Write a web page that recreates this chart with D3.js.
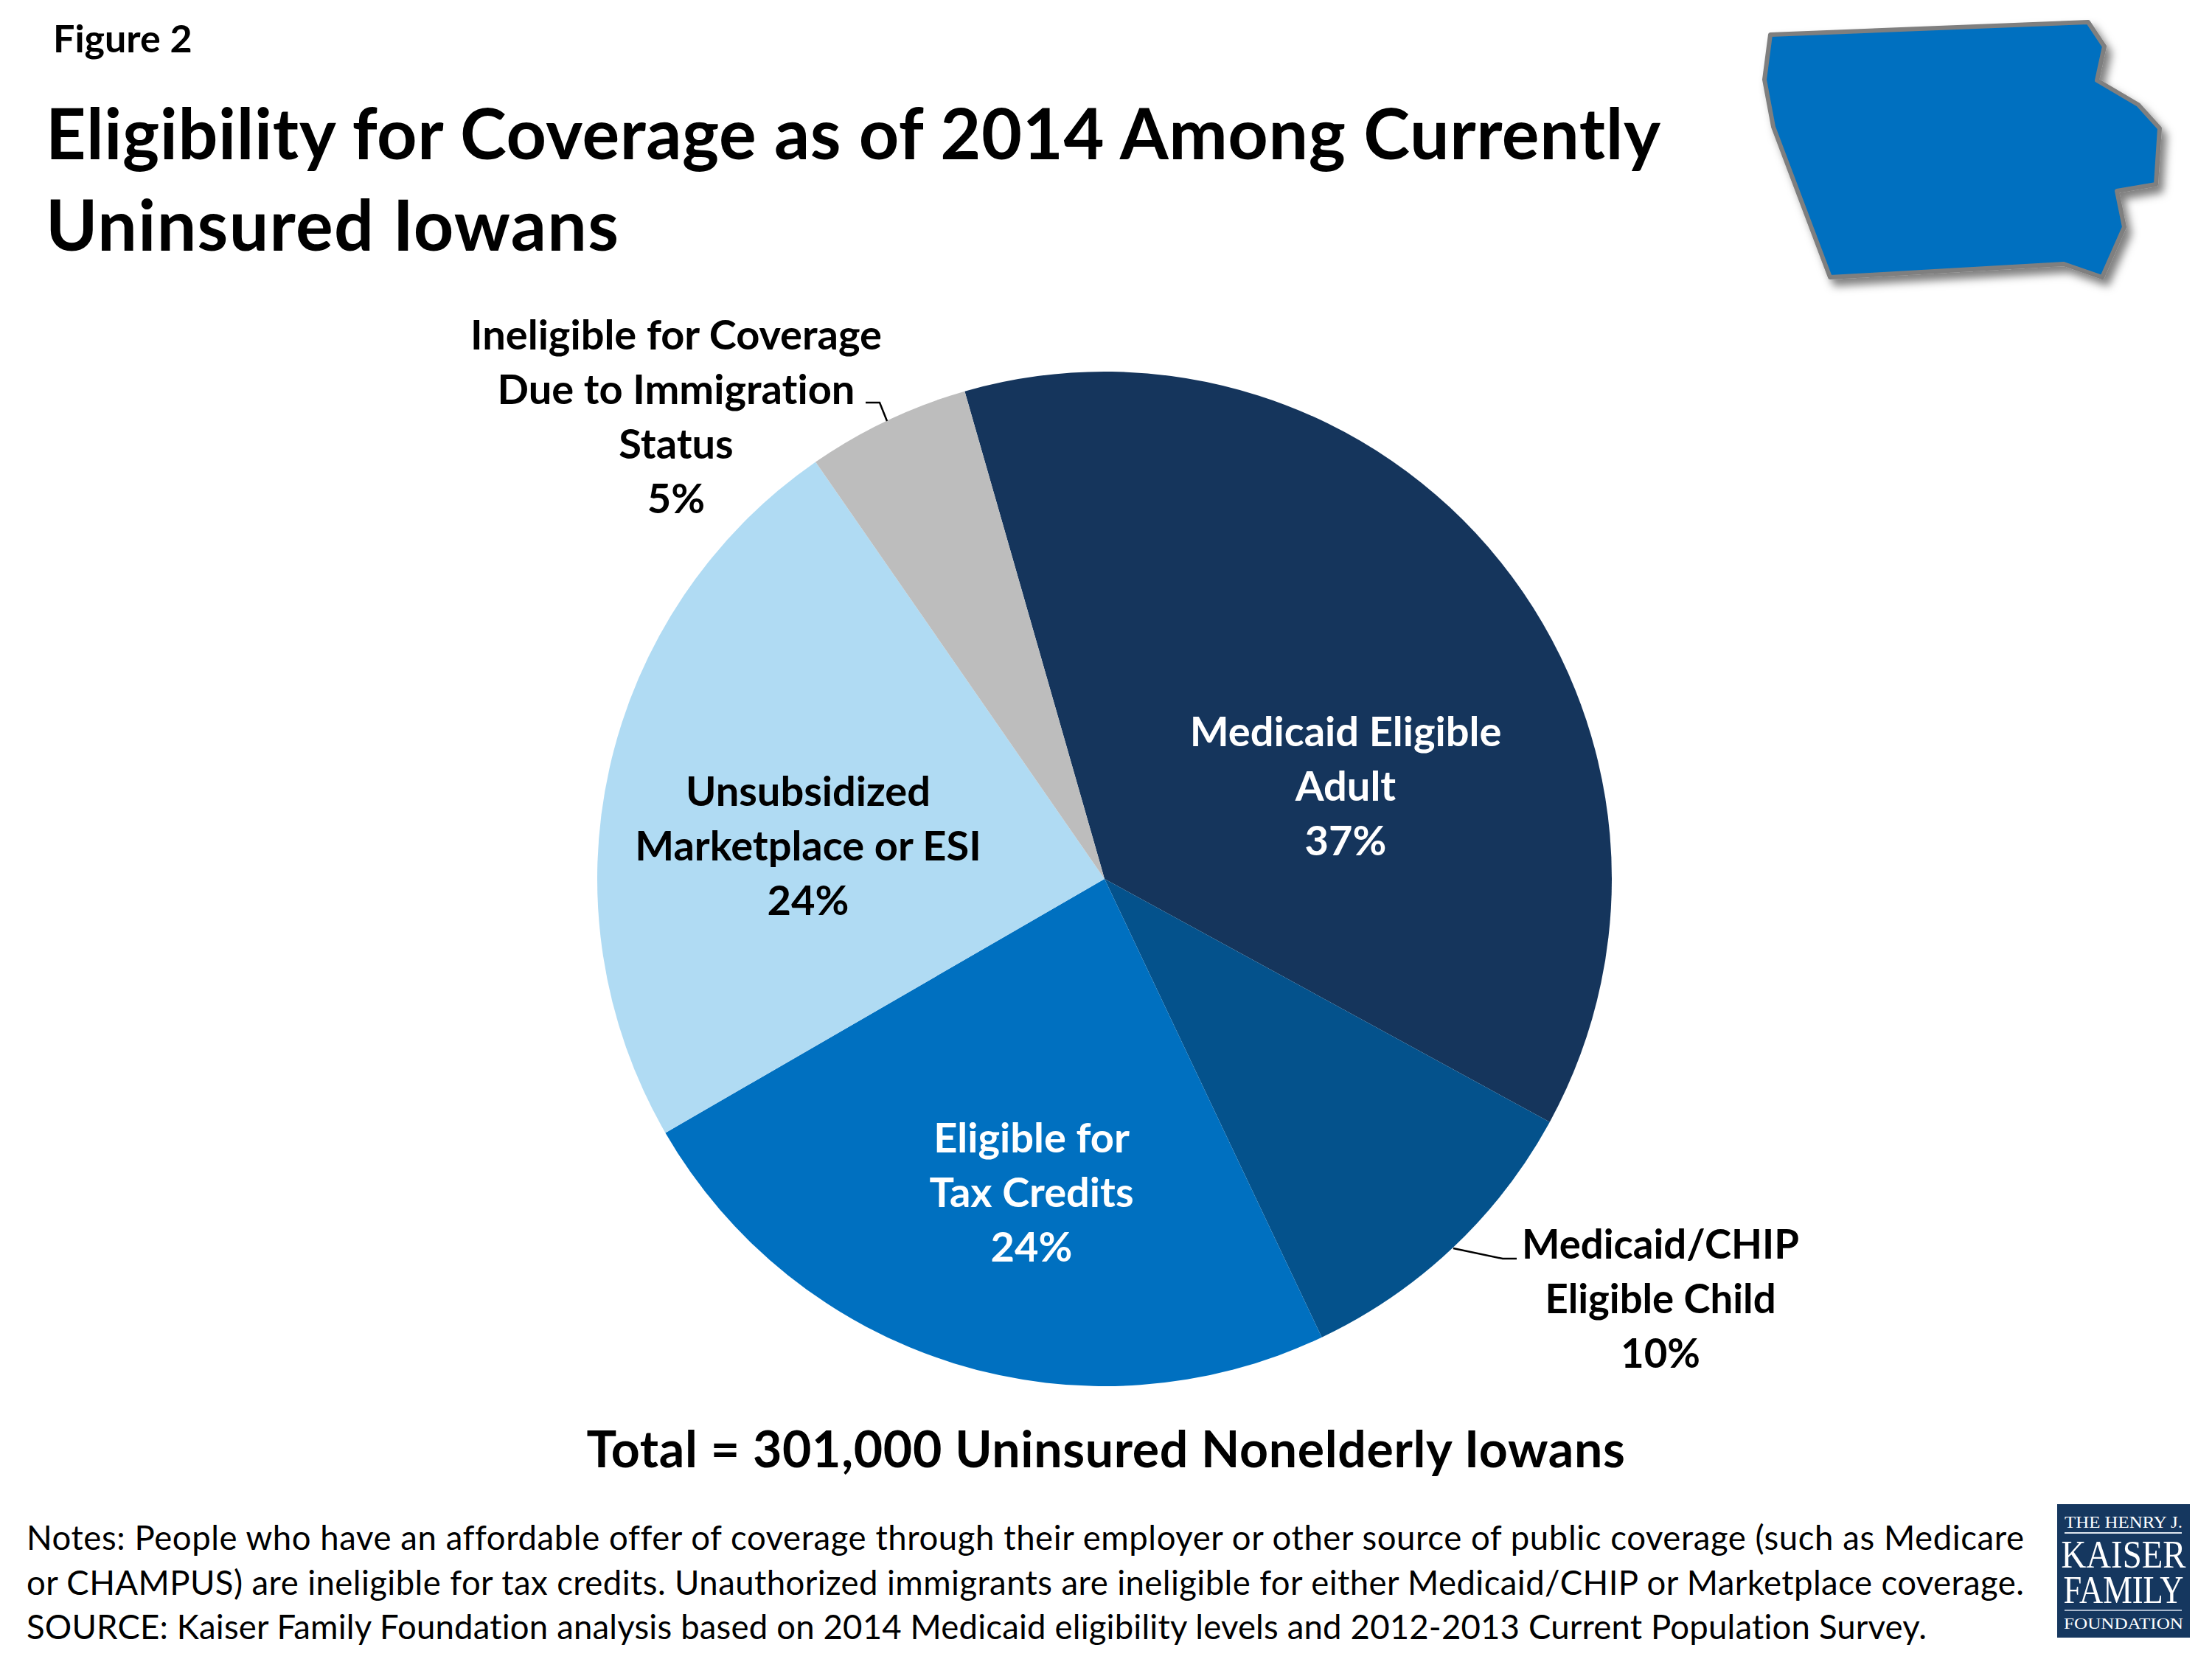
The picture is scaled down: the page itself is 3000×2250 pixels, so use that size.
<!DOCTYPE html>
<html><head><meta charset="utf-8">
<script src="https://cdn.jsdelivr.net/npm/d3@7/dist/d3.min.js"></script>
<style>html,body{margin:0;padding:0;background:#fff}svg{display:block}text{font-family:Lato,"Open Sans",sans-serif;font-variant-ligatures:none}</style>
</head><body><div id="chart"></div>
<script>
const categories=["Medicaid Eligible Adult","Medicaid/CHIP Eligible Child","Eligible for Tax Credits","Unsubsidized Marketplace or ESI","Ineligible for Coverage Due to Immigration Status"];
const values=[37.4,10.0,23.7,23.7,5.2];
const colors=["#15355C","#04528C","#0070C0","#B0DBF3","#BDBDBD"];
const labelLines=[["Medicaid Eligible","Adult"],["Medicaid/CHIP","Eligible Child"],["Eligible for","Tax Credits"],["Unsubsidized","Marketplace or ESI"],["Ineligible for Coverage","Due to Immigration","Status"]];
const labelColors=["#fff","#000","#fff","#000","#000"];
const labelPos=[[1825,1012],[2252,1707],[1399,1563],[1096,1093],[917,474]];
const leaders=[null,[[1971,1693],[2038,1707],[2057,1707]],null,null,[[1174,546],[1193,546],[1203,571]]];
const titleLines=["Eligibility for Coverage as of 2014 Among Currently","Uninsured Iowans"];
const titleWidths=[2190,777];
const noteLines=["Notes: People who have an affordable offer of coverage through their employer or other source of public coverage (such as Medicare","or CHAMPUS) are ineligible for tax credits. Unauthorized immigrants are ineligible for either Medicaid/CHIP or Marketplace coverage.","SOURCE: Kaiser Family Foundation analysis based on 2014 Medicaid eligibility levels and 2012-2013 Current Population Survey."];
const noteWidths=[2709,2709,2577];
const iowaOutline=[[2401,47],[2832,30],[2854,63],[2844,109],[2900,142],[2929,174],[2924,250],[2871,259],[2881,308],[2851,376],[2799,358],[2482,376],[2405,172],[2393,108]];

const W=3000,H=2250,cx=1498,cy=1192,R=688,LH=74;
const svg=d3.select("#chart").append("svg").attr("width",W).attr("height",H).attr("viewBox",`0 0 ${W} ${H}`);
const defs=svg.append("defs");
const f=defs.append("filter").attr("id","sh").attr("x","-10%").attr("y","-10%").attr("width","125%").attr("height","125%");
f.append("feDropShadow").attr("dx",7).attr("dy",9).attr("stdDeviation",6).attr("flood-color","#000").attr("flood-opacity",0.5);

const text=(x,y,s,size,opts={})=>{
  const t=svg.append("text").attr("x",x).attr("y",y).text(s).attr("font-size",size)
  .attr("font-weight",opts.weight||700).attr("fill",opts.fill||"#000").attr("text-anchor",opts.anchor||"start")
  .attr("letter-spacing",opts.ls||null);
  if(opts.family)t.style("font-family",opts.family);
  if(opts.len)t.attr("textLength",opts.len).attr("lengthAdjust",opts.adjust||"spacing");
  return t;
};

text(72,71,"Figure 2",52);
titleLines.forEach((t,i)=>text(62,216+i*124,t,95,{len:titleWidths[i]}));

const pie=d3.pie().sort(null).value(d=>d).startAngle(-16*Math.PI/180).endAngle(344*Math.PI/180);
const arc=d3.arc().innerRadius(0).outerRadius(R);
const g=svg.append("g").attr("transform",`translate(${cx},${cy})`);
g.selectAll("path").data(pie(values)).join("path").attr("d",arc).attr("fill",(d,i)=>colors[i]);

const line=d3.line();
leaders.forEach(l=>{if(l)svg.append("path").attr("d",line(l)).attr("fill","none").attr("stroke","#000").attr("stroke-width",2.5)});

labelLines.forEach((lines,i)=>{
  const [x,y]=labelPos[i];
  const all=[...lines,d3.format(".0f")(values[i])+"%"];
  all.forEach((t,j)=>text(x,y+j*LH,t,i===1?54.5:56,{anchor:"middle",fill:labelColors[i]}));
});

text(1500,1990,"Total = 301,000 Uninsured Nonelderly Iowans",68,{anchor:"middle",ls:0.65});
noteLines.forEach((t,i)=>text(36,2102+i*60.5,t,45.5,{weight:400,len:noteWidths[i]}));

svg.append("path").attr("d",d3.line()(iowaOutline)+"Z").attr("fill","#0070C0").attr("stroke","#7F7F7F").attr("stroke-width",6).attr("stroke-linejoin","round").attr("filter","url(#sh)");

svg.append("rect").attr("x",2790).attr("y",2040).attr("width",180).attr("height",181).attr("fill","#15375F");
const serif="'Liberation Serif',serif";
const lt=(y,s,size,len)=>text(2880,y,s,size,{anchor:"middle",fill:"#fff",weight:400,family:serif,len,adjust:"spacingAndGlyphs"});
lt(2072,"THE HENRY J.",24,160);
lt(2126,"KAISER",52,169);
lt(2174,"FAMILY",52,163);
lt(2209,"FOUNDATION",22,162);
svg.append("rect").attr("x",2800).attr("y",2078).attr("width",159).attr("height",2).attr("fill","#dfe6ef");
svg.append("rect").attr("x",2800).attr("y",2183).attr("width",159).attr("height",2).attr("fill","#a9b8cc");
</script></body></html>
